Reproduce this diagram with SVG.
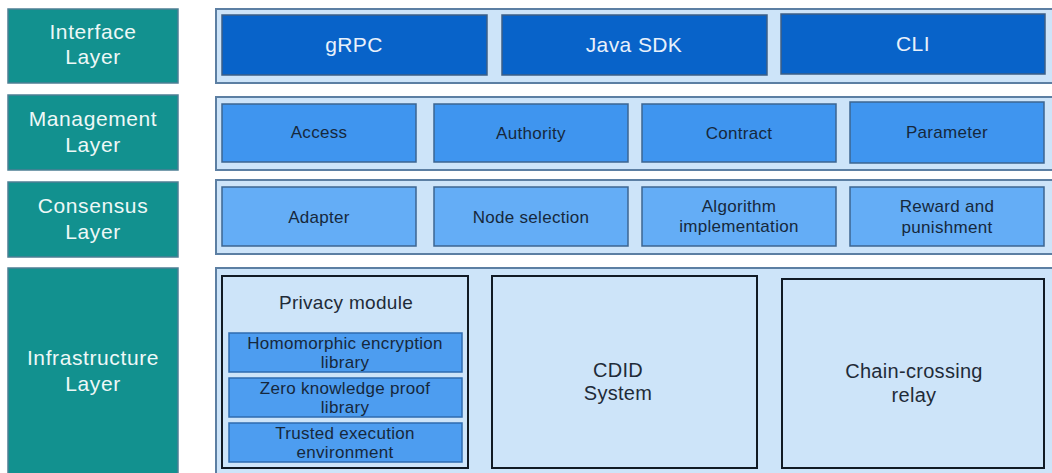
<svg xmlns="http://www.w3.org/2000/svg" width="1052" height="473" viewBox="0 0 1052 473">
<style>
.bg{fill:#ffffff}
.layer{fill:#12918f;stroke:#4d7f94;stroke-width:1.5}
.ltxt{font-family:"Liberation Sans",Arial,sans-serif;font-size:21px;letter-spacing:0.6px;fill:#eef8f7;text-anchor:middle}
.cont{fill:#cde4f9;stroke:#5c7fa3;stroke-width:2}
.ifc{fill:#0863c9;stroke:#3c5f86;stroke-width:1.5}
.itxt{font-family:"Liberation Sans",Arial,sans-serif;font-size:21px;letter-spacing:0.4px;fill:#e8f1fb;text-anchor:middle}
.mgt{fill:#3f95ef;stroke:#3c6591;stroke-width:1.5}
.csn{fill:#64adf6;stroke:#3c6591;stroke-width:1.5}
.btxt{font-family:"Liberation Sans",Arial,sans-serif;font-size:17px;letter-spacing:0.3px;fill:#16283c;text-anchor:middle}
.inf{fill:#cde4f9;stroke:#111a24;stroke-width:2}
.sub{fill:#4d9df0;stroke:#2e6bb0;stroke-width:1.5}
.stxt{font-family:"Liberation Sans",Arial,sans-serif;font-size:17px;letter-spacing:0.3px;fill:#16283c;text-anchor:middle}
.big{font-family:"Liberation Sans",Arial,sans-serif;font-size:20px;letter-spacing:0.3px;fill:#1f2b38;text-anchor:middle}
</style>
<rect class="bg" x="0" y="0" width="1052" height="473"/>

<g id="interface-layer">
<rect class="layer" x="8" y="9" width="170" height="74"/>
<text class="ltxt" x="93" y="39">Interface</text>
<text class="ltxt" x="93" y="64">Layer</text>
</g>
<g id="management-layer">
<rect class="layer" x="8" y="95" width="170" height="75"/>
<text class="ltxt" x="93" y="126">Management</text>
<text class="ltxt" x="93" y="152">Layer</text>
</g>
<g id="consensus-layer">
<rect class="layer" x="8" y="182" width="170" height="75"/>
<text class="ltxt" x="93" y="213">Consensus</text>
<text class="ltxt" x="93" y="239">Layer</text>
</g>
<g id="infrastructure-layer">
<rect class="layer" x="8" y="268" width="170" height="210"/>
<text class="ltxt" x="93" y="365">Infrastructure</text>
<text class="ltxt" x="93" y="391">Layer</text>
</g>

<g id="interface-container">
<rect class="cont" x="216" y="9" width="840" height="74"/>
</g>
<g id="grpc"><rect class="ifc" x="222" y="15" width="265" height="60"/><text class="itxt" x="354" y="52">gRPC</text></g>
<g id="java-sdk"><rect class="ifc" x="502" y="15" width="265" height="60"/><text class="itxt" x="634" y="52">Java SDK</text></g>
<g id="cli"><rect class="ifc" x="781" y="14" width="264" height="60"/><text class="itxt" x="913" y="51">CLI</text></g>

<g id="management-container">
<rect class="cont" x="216" y="97" width="840" height="73"/>
</g>
<g id="access"><rect class="mgt" x="222" y="104" width="194" height="58"/><text class="btxt" x="319" y="138">Access</text></g>
<g id="authority"><rect class="mgt" x="434" y="104" width="194" height="58"/><text class="btxt" x="531" y="139">Authority</text></g>
<g id="contract"><rect class="mgt" x="642" y="104" width="194" height="58"/><text class="btxt" x="739" y="139">Contract</text></g>
<g id="parameter"><rect class="mgt" x="850" y="102" width="194" height="61"/><text class="btxt" x="947" y="138">Parameter</text></g>

<g id="consensus-container">
<rect class="cont" x="216" y="180" width="840" height="74"/>
</g>
<g id="adapter"><rect class="csn" x="222" y="187" width="194" height="59"/><text class="btxt" x="319" y="223">Adapter</text></g>
<g id="node-selection"><rect class="csn" x="434" y="187" width="194" height="59"/><text class="btxt" x="531" y="223">Node selection</text></g>
<g id="algorithm"><rect class="csn" x="642" y="187" width="194" height="59"/><text class="btxt" x="739" y="212">Algorithm</text><text class="btxt" x="739" y="232">implementation</text></g>
<g id="reward"><rect class="csn" x="850" y="187" width="194" height="59"/><text class="btxt" x="947" y="212">Reward and</text><text class="btxt" x="947" y="233">punishment</text></g>

<g id="infrastructure-container">
<rect class="cont" x="216" y="268" width="840" height="210"/>
</g>
<g id="privacy-module">
<rect class="inf" x="222" y="276" width="246" height="192"/>
<text class="big" x="346" y="309" style="font-size:19px">Privacy module</text>
</g>
<g id="homomorphic"><rect class="sub" x="229" y="333" width="233" height="39"/><text class="stxt" x="345" y="349">Homomorphic encryption</text><text class="stxt" x="345" y="368">library</text></g>
<g id="zero-knowledge"><rect class="sub" x="229" y="378" width="233" height="39"/><text class="stxt" x="345" y="394">Zero knowledge proof</text><text class="stxt" x="345" y="413">library</text></g>
<g id="trusted-execution"><rect class="sub" x="229" y="423" width="233" height="39"/><text class="stxt" x="345" y="439">Trusted execution</text><text class="stxt" x="345" y="458">environment</text></g>
<g id="cdid">
<rect class="inf" x="492" y="276" width="265" height="192"/>
<text class="big" x="618" y="377">CDID</text>
<text class="big" x="618" y="400">System</text>
</g>
<g id="chain-crossing">
<rect class="inf" x="782" y="279" width="262" height="189"/>
<text class="big" x="914" y="378">Chain-crossing</text>
<text class="big" x="914" y="402">relay</text>
</g>
<g id="connectors"></g>
</svg>
